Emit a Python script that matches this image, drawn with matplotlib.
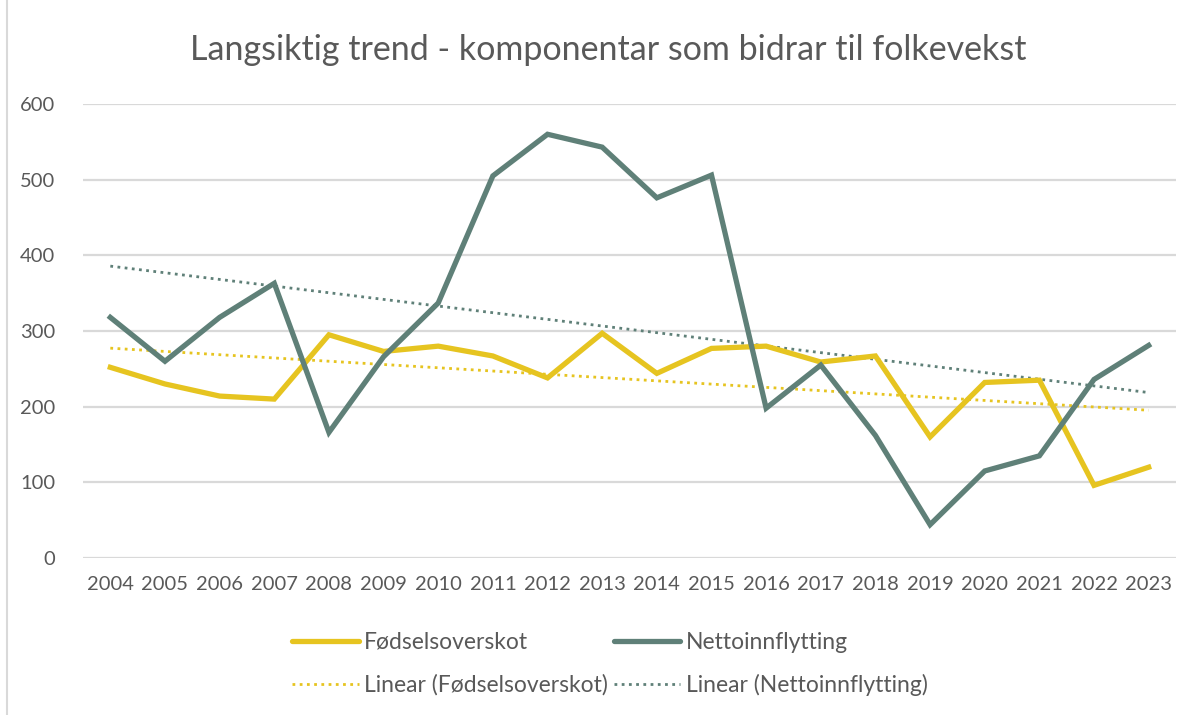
import matplotlib
matplotlib.use("Agg")
import matplotlib.pyplot as plt
import numpy as np
from matplotlib.lines import Line2D

# Data
years = [2004, 2005, 2006, 2007, 2008, 2009, 2010, 2011, 2012, 2013,
         2014, 2015, 2016, 2017, 2018, 2019, 2020, 2021, 2022, 2023]
fodselsoverskot = [252, 230, 214, 210, 295, 273, 280, 267, 238, 297,
                   244, 277, 280, 259, 267, 160, 232, 235, 96, 120]
nettoinnflytting = [318, 260, 318, 363, 166, 266, 337, 505, 560, 543,
                    476, 506, 198, 255, 162, 44, 115, 135, 236, 281]
yticks = [0, 100, 200, 300, 400, 500, 600]
title = "Langsiktig trend - komponentar som bidrar til folkevekst"

YELLOW = "#E6C420"
GREEN = "#5F8078"
TXT = "#595959"

plt.rcParams['font.family'] = ['Lato', 'DejaVu Sans']

fig = plt.figure(figsize=(11.98, 7.15), dpi=100)
ax = fig.add_axes([83 / 1198, 1 - 558 / 715, (1176 - 83) / 1198, (558 - 104) / 715])

x = np.arange(len(years))

# linear trend lines (like Excel's "Linear" trendline)
k1, m1 = np.polyfit(x, fodselsoverskot, 1)
k2, m2 = np.polyfit(x, nettoinnflytting, 1)

ax.plot(x, k1 * x + m1, color=YELLOW, lw=2, linestyle=(0, (1, 1.6)), zorder=3)
ax.plot(x, k2 * x + m2, color=GREEN, lw=2, linestyle=(0, (1, 1.6)), zorder=3)
ax.plot(x, fodselsoverskot, color=YELLOW, lw=3.8, solid_joinstyle='miter', zorder=4)
ax.plot(x, nettoinnflytting, color=GREEN, lw=3.8, solid_joinstyle='miter', zorder=4)

ax.set_xlim(-0.5, len(years) - 0.5)
ax.set_ylim(0, 600)
ax.set_yticks(yticks)
ax.set_xticks(x)
ax.set_xticklabels([str(y) for y in years])
ax.grid(axis='y', color='#D9D9D9', lw=1.6)
ax.set_axisbelow(True)
for s in ax.spines.values():
    s.set_visible(False)
ax.tick_params(length=0, labelsize=14.5, colors=TXT, pad=13)
ax.tick_params(axis='y', pad=20)

fig.text(608 / 1198, 1 - 50 / 715, title, ha='center', va='center',
         fontsize=24.5, color=TXT)

# chart border on the left
fig.add_artist(Line2D([7 / 1198, 7 / 1198], [0, 1], color='#D9D9D9', lw=1.5))

handles = [
    Line2D([], [], color=YELLOW, lw=3.8, solid_capstyle='round'),
    Line2D([], [], color=YELLOW, lw=2, linestyle=(0, (1, 1.6))),
    Line2D([], [], color=GREEN, lw=3.8, solid_capstyle='round'),
    Line2D([], [], color=GREEN, lw=2, linestyle=(0, (1, 1.6))),
]
labels = ["Fødselsoverskot", "Linear (Fødselsoverskot)",
          "Nettoinnflytting", "Linear (Nettoinnflytting)"]
fig.legend(handles, labels, ncol=2, loc='center', bbox_to_anchor=(610 / 1198, 1 - 664 / 715),
           frameon=False, fontsize=16.5, labelcolor=TXT, handlelength=2.9,
           handletextpad=0.25, columnspacing=0.25, labelspacing=0.95)

fig.savefig("out.png", dpi=100, facecolor='white')
